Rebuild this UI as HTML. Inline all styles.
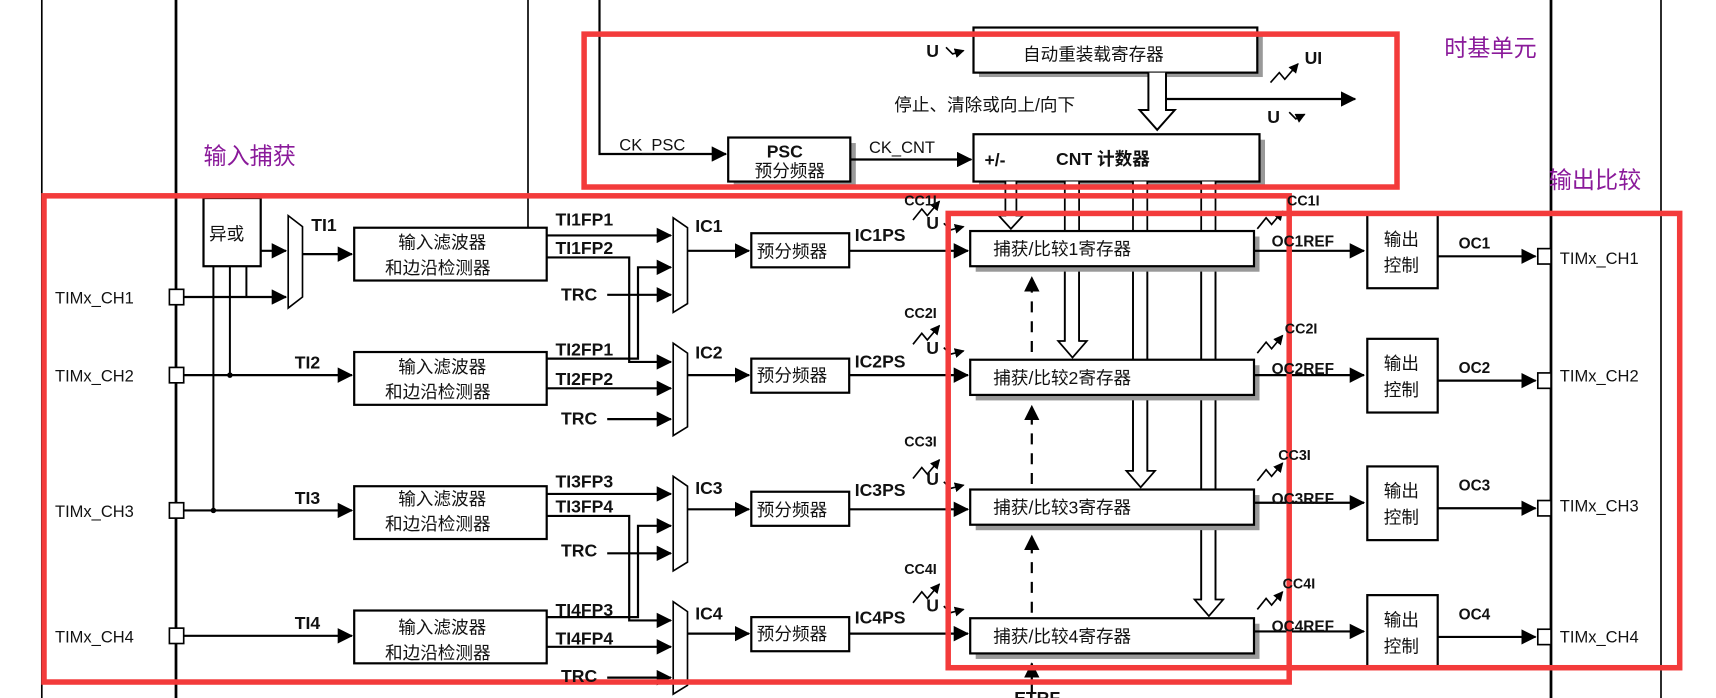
<!DOCTYPE html>
<html><head><meta charset="utf-8"><style>
html,body{margin:0;padding:0;background:#fff;}
svg{display:block;}
text{font-family:"Liberation Sans","Noto Sans CJK SC",sans-serif;fill:#111;}
.b{font-weight:bold;font-size:16px;}
.n{font-size:15px;}
.c{font-size:16px;font-family:"Liberation Sans","Noto Sans CJK SC",sans-serif;}
.p{font-size:21px;fill:#8a1a9a;}
</style></head><body>
<svg width="1716" height="698" viewBox="0 0 1560 634.5" xmlns="http://www.w3.org/2000/svg">
<defs>
<marker id="a" markerUnits="userSpaceOnUse" markerWidth="14" markerHeight="14" refX="13" refY="7" orient="auto"><path d="M0,0 L14,7 L0,14 z" fill="#000"/></marker>
<marker id="s" markerUnits="userSpaceOnUse" markerWidth="9" markerHeight="9" refX="8" refY="4.5" orient="auto"><path d="M0,0 L9,4.5 L0,9 z" fill="#000"/></marker>
</defs>
<g stroke="#000" fill="none">
<!-- frame verticals -->
<line x1="38" y1="0" x2="38" y2="635" stroke-width="1.5"/>
<line x1="160" y1="0" x2="160" y2="635" stroke-width="2.5"/>
<line x1="480" y1="0" x2="480" y2="207" stroke-width="1.5"/>
<polyline points="545,0 545,140 660,140" stroke-width="2" marker-end="url(#a)"/>
<line x1="1410" y1="0" x2="1410" y2="635" stroke-width="2.5"/>
<line x1="1510" y1="0" x2="1510" y2="635" stroke-width="1.5"/>

<!-- time base -->
<rect x="890" y="30" width="258" height="40" fill="#999" stroke="none"/>
<rect x="885" y="25" width="258" height="41" fill="#fff" stroke-width="2"/>
<path d="M1044,66 V100 H1036 L1052,118 L1068,100 H1060 V66" fill="#fff" stroke-width="1.8"/>
<line x1="1060" y1="90" x2="1232" y2="90" stroke-width="2" marker-end="url(#a)"/>
<polyline points="1155,75 1163,66 1168,72 1180,58" stroke-width="1.5" marker-end="url(#s)"/>
<polyline points="1172,102 1178,108 1186,104" stroke-width="1.5" marker-end="url(#s)"/>
<polyline points="860,43 866,49 876,46" stroke-width="1.5" marker-end="url(#s)"/>
<rect x="667" y="130" width="111" height="40" fill="#999" stroke="none"/>
<rect x="662" y="125" width="111" height="40" fill="#fff" stroke-width="2"/>
<line x1="773" y1="145" x2="883" y2="145" stroke-width="2" marker-end="url(#a)"/>
<rect x="890" y="127" width="260" height="43" fill="#999" stroke="none"/>
<rect x="885" y="122" width="260" height="43" fill="#fff" stroke-width="2"/>

<!-- vertical buses from CNT -->
<path d="M914,165 V196 H908 L919,208 L930,196 H924 V165" fill="#fff" stroke-width="1.6"/>
<path d="M968,165 V310 H962 L975,325 L988,310 H981 V165" fill="#fff" stroke-width="1.6"/>
<path d="M1030,165 V428 H1024 L1037,443 L1050,428 H1043 V165" fill="#fff" stroke-width="1.6"/>
<path d="M1092,165 V545 H1086 L1099,560 L1112,545 H1105 V165" fill="#fff" stroke-width="1.6"/>

<!-- CC registers -->
<g>
<rect x="887" y="215" width="258" height="32" fill="#999" stroke="none"/>
<rect x="882" y="210" width="258" height="32" fill="#fff" stroke-width="2"/>
<rect x="887" y="332" width="258" height="32" fill="#999" stroke="none"/>
<rect x="882" y="327" width="258" height="32" fill="#fff" stroke-width="2"/>
<rect x="887" y="450" width="258" height="32" fill="#999" stroke="none"/>
<rect x="882" y="445" width="258" height="32" fill="#fff" stroke-width="2"/>
<rect x="887" y="567" width="258" height="32" fill="#999" stroke="none"/>
<rect x="882" y="562" width="258" height="32" fill="#fff" stroke-width="2"/>
</g>
<!-- redraw bus segments between registers -->
<path d="M968,247 V310 M981,247 V310 M1030,247 V327 M1043,247 V327 M1092,247 V327 M1105,247 V327 M1030,364 V428 M1043,364 V428 M1092,364 V445 M1105,364 V445 M1092,482 V545 M1105,482 V545" stroke-width="1.6"/>
<!-- dashed up -->
<line x1="938" y1="320" x2="938" y2="252" stroke-width="2" stroke-dasharray="10,8" marker-end="url(#a)"/>
<line x1="938" y1="440" x2="938" y2="369" stroke-width="2" stroke-dasharray="10,8" marker-end="url(#a)"/>
<line x1="938" y1="557" x2="938" y2="487" stroke-width="2" stroke-dasharray="10,8" marker-end="url(#a)"/>
<line x1="938" y1="630" x2="938" y2="603" stroke-width="2" marker-end="url(#a)"/>

<!-- input pins -->
<rect x="154" y="263" width="13" height="14" fill="#fff" stroke-width="1.5"/>
<rect x="154" y="334" width="13" height="14" fill="#fff" stroke-width="1.5"/>
<rect x="154" y="457" width="13" height="14" fill="#fff" stroke-width="1.5"/>
<rect x="154" y="571" width="13" height="14" fill="#fff" stroke-width="1.5"/>
<rect x="185" y="180" width="52" height="62" fill="#fff" stroke-width="2"/>
<line x1="194" y1="242" x2="194" y2="464" stroke-width="1.8"/>
<line x1="209" y1="242" x2="209" y2="341" stroke-width="1.8"/>
<line x1="224" y1="242" x2="224" y2="270" stroke-width="1.8"/>
<circle cx="194" cy="464" r="2" fill="#000"/><circle cx="209" cy="341" r="2" fill="#000"/>
<line x1="167" y1="270" x2="260" y2="270" stroke-width="2" marker-end="url(#a)"/>
<line x1="237" y1="228" x2="260" y2="228" stroke-width="2" marker-end="url(#a)"/>
<polygon points="262,196 275,206 275,270 262,280" fill="#fff" stroke-width="1.5"/>
<line x1="275" y1="231" x2="320" y2="231" stroke-width="2" marker-end="url(#a)"/>
<line x1="167" y1="341" x2="320" y2="341" stroke-width="2" marker-end="url(#a)"/>
<line x1="167" y1="464" x2="320" y2="464" stroke-width="2" marker-end="url(#a)"/>
<line x1="167" y1="578" x2="320" y2="578" stroke-width="2" marker-end="url(#a)"/>

<!-- pair 1 -->
<g id="pair">
<rect x="322" y="207" width="175" height="48" fill="#fff" stroke-width="2"/>
<rect x="322" y="320" width="175" height="48" fill="#fff" stroke-width="2"/>
<line x1="497" y1="214" x2="610" y2="214" stroke-width="2" marker-end="url(#a)"/>
<polyline points="497,234 572,234 572,329 610,329" stroke-width="2" marker-end="url(#a)"/>
<polyline points="497,326 580,326 580,243 610,243" stroke-width="2" marker-end="url(#a)"/>
<line x1="552" y1="268" x2="610" y2="268" stroke-width="2" marker-end="url(#a)"/>
<line x1="497" y1="353" x2="610" y2="353" stroke-width="2" marker-end="url(#a)"/>
<line x1="552" y1="381" x2="610" y2="381" stroke-width="2" marker-end="url(#a)"/>
<polygon points="612,198 625,207 625,276 612,284" fill="#fff" stroke-width="1.5"/>
<polygon points="612,312 625,321 625,388 612,396" fill="#fff" stroke-width="1.5"/>
<line x1="625" y1="228" x2="681" y2="228" stroke-width="2" marker-end="url(#a)"/>
<line x1="625" y1="341" x2="681" y2="341" stroke-width="2" marker-end="url(#a)"/>
<rect x="683" y="212" width="89" height="31" fill="#fff" stroke-width="2"/>
<rect x="683" y="326" width="89" height="31" fill="#fff" stroke-width="2"/>
<line x1="772" y1="228" x2="880" y2="228" stroke-width="2" marker-end="url(#a)"/>
<line x1="772" y1="341" x2="880" y2="341" stroke-width="2" marker-end="url(#a)"/>
<polyline points="830,200 838,190 843,196 854,183" stroke-width="1.5" marker-end="url(#s)"/>
<polyline points="830,313 838,303 843,309 854,296" stroke-width="1.5" marker-end="url(#s)"/>
<polyline points="858,203 864,209 876,206" stroke-width="1.5" marker-end="url(#s)"/>
<polyline points="858,316 864,322 876,319" stroke-width="1.5" marker-end="url(#s)"/>
</g>
<use href="#pair" transform="translate(0,235)"/>

<!-- outputs -->
<g id="out">
<line x1="1140" y1="228" x2="1240" y2="228" stroke-width="2" marker-end="url(#a)"/>
<polyline points="1143,208 1151,198 1156,204 1166,192" stroke-width="1.5" marker-end="url(#s)"/>
<rect x="1243" y="195" width="64" height="67" fill="#fff" stroke-width="2"/>
<line x1="1307" y1="233" x2="1396" y2="233" stroke-width="2" marker-end="url(#a)"/>
<rect x="1398" y="226" width="12" height="14" fill="#fff" stroke-width="1.5"/>
</g>
<use href="#out" transform="translate(0,113)"/>
<use href="#out" transform="translate(0,229)"/>
<use href="#out" transform="translate(0,346)"/>
</g>

<!-- red boxes -->
<g stroke="#f33b3b" stroke-width="5" fill="none">
<rect x="531" y="31" width="739" height="139"/>
<rect x="40" y="178" width="1132" height="442"/>
<rect x="862" y="194" width="665" height="413"/>
</g>

<!-- texts -->
<text class="p" x="1313" y="51">时基单元</text>
<text class="p" x="185" y="149">输入捕获</text>
<text class="p" x="1408" y="171">输出比较</text>

<text class="c" x="930" y="55" font-size="16">自动重装载寄存器</text>
<text class="b" x="842" y="52">U</text><text class="b" x="1186" y="58">UI</text><text class="b" x="1152" y="112">U</text>
<text class="c" x="813" y="101" fill="#333">停止、清除或向上/向下</text>
<text class="n" x="563" y="137">CK_PSC</text>
<text class="b" x="697" y="143">PSC</text>
<text class="c" x="686" y="161">预分频器</text>
<text class="n" x="790" y="139">CK_CNT</text>
<text class="b" x="895" y="151">+/-</text>
<text class="b" x="960" y="150">CNT 计数器</text>

<text class="c" x="903" y="232">捕获/比较1寄存器</text>
<text class="c" x="903" y="349">捕获/比较2寄存器</text>
<text class="c" x="903" y="467">捕获/比较3寄存器</text>
<text class="c" x="903" y="584">捕获/比较4寄存器</text>
<text class="b" x="922" y="640" font-size="12">ETRF</text>

<g class="n">
<text x="50" y="276">TIMx_CH1</text><text x="50" y="347">TIMx_CH2</text>
<text x="50" y="470">TIMx_CH3</text><text x="50" y="584">TIMx_CH4</text>
<text x="1418" y="240">TIMx_CH1</text><text x="1418" y="347">TIMx_CH2</text>
<text x="1418" y="465">TIMx_CH3</text><text x="1418" y="584">TIMx_CH4</text>
</g>
<text class="c" x="190" y="218">异或</text>
<g class="b">
<text x="283" y="210">TI1</text><text x="268" y="335">TI2</text><text x="268" y="458">TI3</text><text x="268" y="572">TI4</text>
<text x="505" y="205">TI1FP1</text><text x="505" y="231">TI1FP2</text><text x="510" y="273">TRC</text>
<text x="505" y="323">TI2FP1</text><text x="505" y="350">TI2FP2</text><text x="510" y="386">TRC</text>
<text x="505" y="443">TI3FP3</text><text x="505" y="466">TI3FP4</text><text x="510" y="506">TRC</text>
<text x="505" y="560">TI4FP3</text><text x="505" y="586">TI4FP4</text><text x="510" y="620">TRC</text>
<text x="632" y="211">IC1</text><text x="632" y="326">IC2</text><text x="632" y="449">IC3</text><text x="632" y="563">IC4</text>
<text x="777" y="219">IC1PS</text><text x="777" y="334">IC2PS</text><text x="777" y="451">IC3PS</text><text x="777" y="567">IC4PS</text>
</g>
<g class="b" font-size="13">
<text x="822" y="187" style="font-size:13px">CC1I</text><text x="822" y="289" style="font-size:13px">CC2I</text>
<text x="822" y="406" style="font-size:13px">CC3I</text><text x="822" y="522" style="font-size:13px">CC4I</text>
<text x="842" y="208">U</text><text x="842" y="322">U</text><text x="842" y="441">U</text><text x="842" y="556">U</text>
<text x="1170" y="187" style="font-size:13px">CC1I</text><text x="1168" y="303" style="font-size:13px">CC2I</text>
<text x="1162" y="418" style="font-size:13px">CC3I</text><text x="1166" y="535" style="font-size:13px">CC4I</text>
<text x="1156" y="224" style="font-size:14px">OC1REF</text><text x="1156" y="340" style="font-size:14px">OC2REF</text>
<text x="1156" y="458" style="font-size:14px">OC3REF</text><text x="1156" y="574" style="font-size:14px">OC4REF</text>
<text x="1326" y="226" style="font-size:14px">OC1</text><text x="1326" y="339" style="font-size:14px">OC2</text>
<text x="1326" y="446" style="font-size:14px">OC3</text><text x="1326" y="563" style="font-size:14px">OC4</text>
</g>
<g class="c">
<text x="362" y="226">输入滤波器</text><text x="350" y="249">和边沿检测器</text>
<text x="362" y="339">输入滤波器</text><text x="350" y="362">和边沿检测器</text>
<text x="362" y="459">输入滤波器</text><text x="350" y="482">和边沿检测器</text>
<text x="362" y="576">输入滤波器</text><text x="350" y="599">和边沿检测器</text>
<text x="688" y="234">预分频器</text><text x="688" y="347">预分频器</text>
<text x="688" y="469">预分频器</text><text x="688" y="582">预分频器</text>
<text x="1258" y="223">输出</text><text x="1258" y="247">控制</text>
<text x="1258" y="336">输出</text><text x="1258" y="360">控制</text>
<text x="1258" y="452">输出</text><text x="1258" y="476">控制</text>
<text x="1258" y="569">输出</text><text x="1258" y="593">控制</text>
</g>
</svg>
</body></html>
